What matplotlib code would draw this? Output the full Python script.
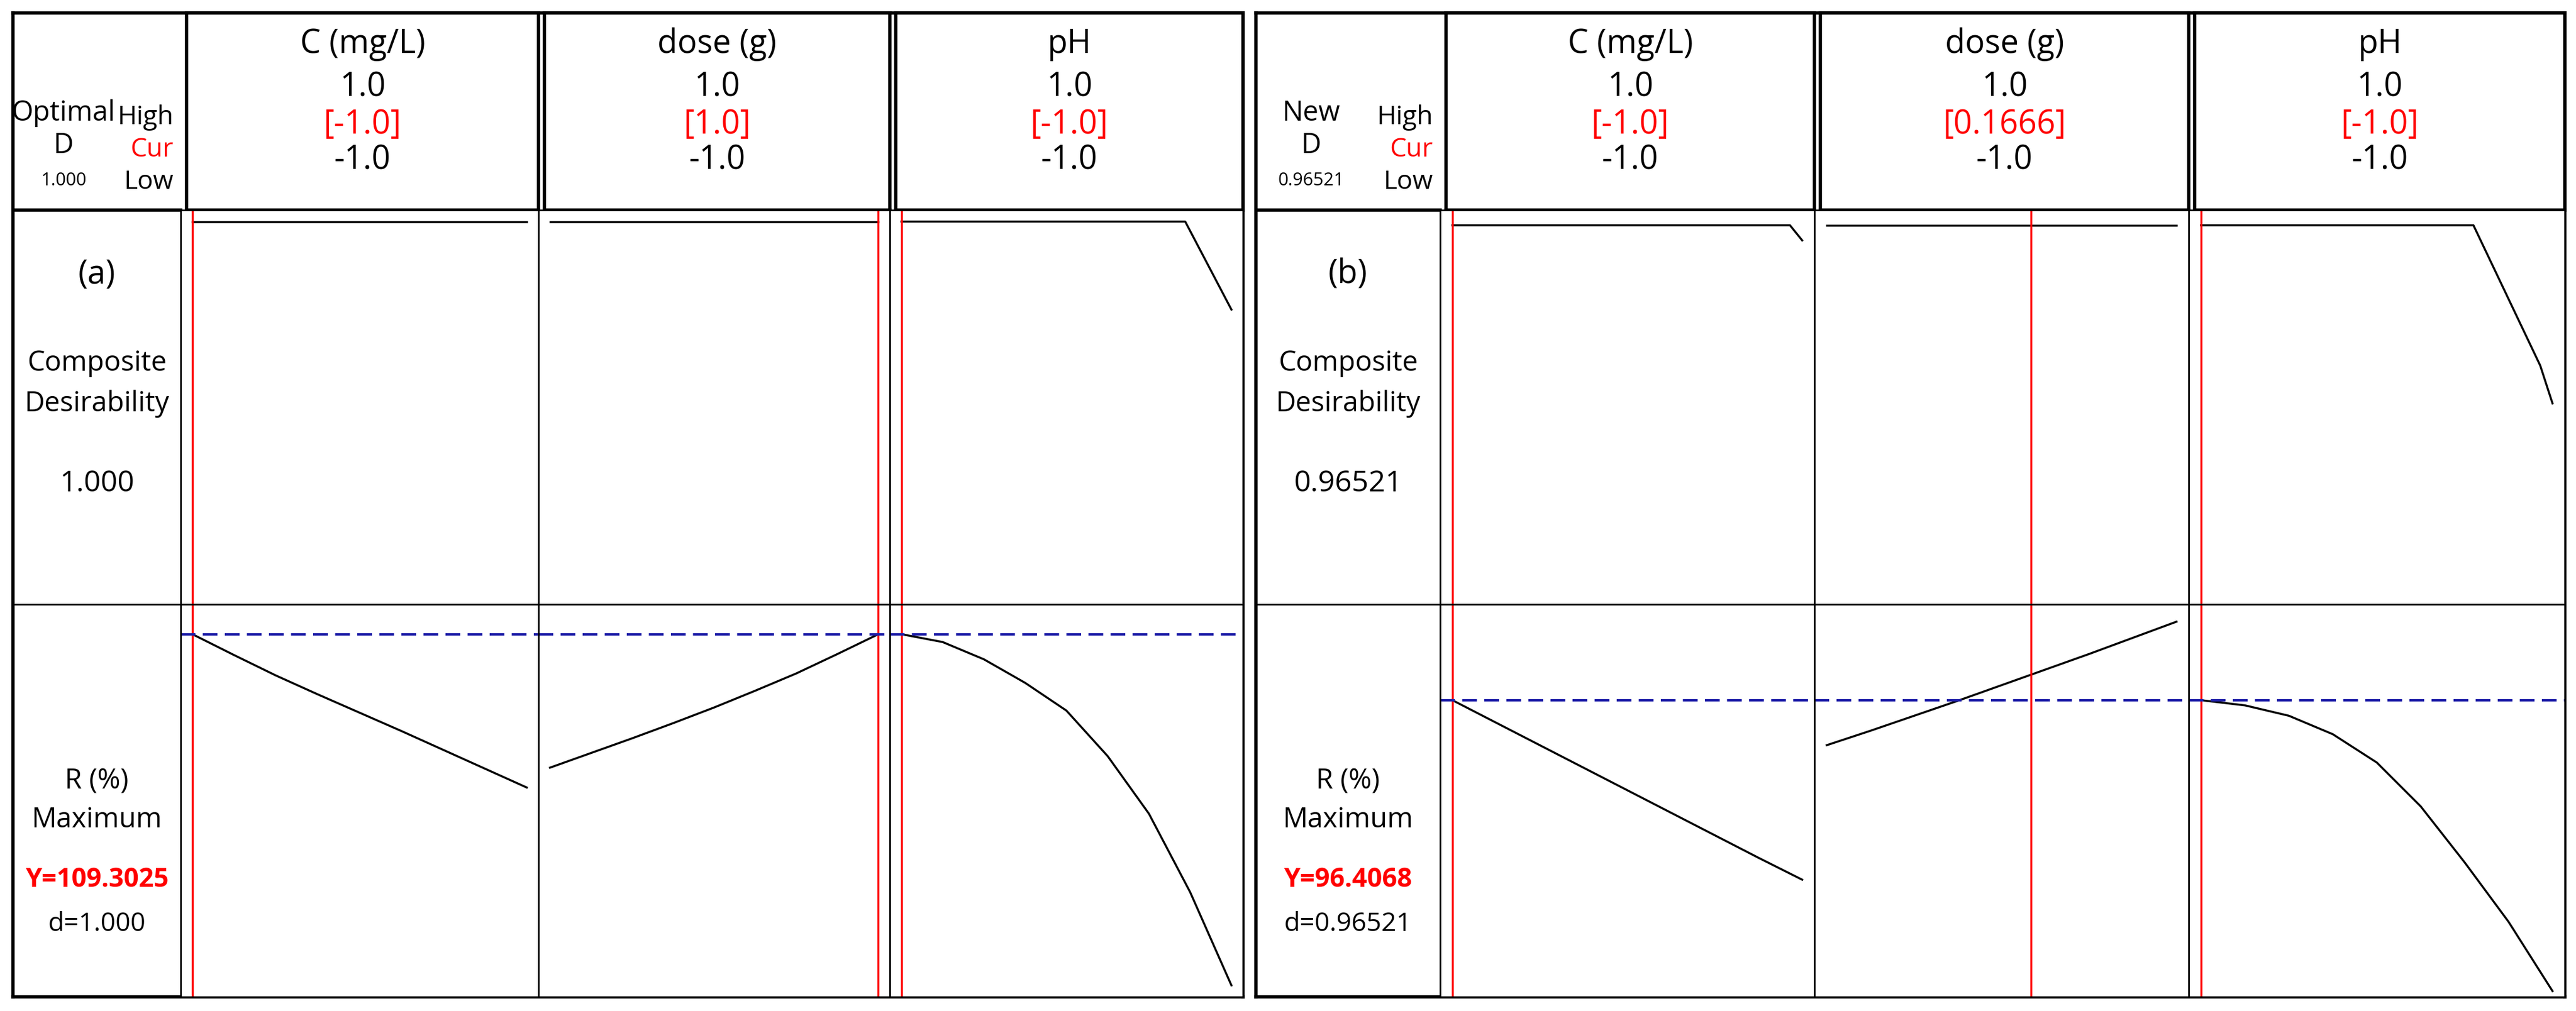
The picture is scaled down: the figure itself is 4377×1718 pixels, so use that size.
import numpy as np
import matplotlib.pyplot as plt

plt.rcParams['font.family'] = ['Open Sans', 'DejaVu Sans']

W, H = 4377, 1718
factors = ['C (mg/L)', 'dose (g)', 'pH']
high = ['1.0', '1.0', '1.0']
low = ['-1.0', '-1.0', '-1.0']

xs = [-1.0, -0.75, -0.5, -0.25, 0.0, 0.25, 0.5, 0.75, 1.0]
# panel (a)
cur_a = [-1.0, 1.0, -1.0]
cur_a_txt = ['[-1.0]', '[1.0]', '[-1.0]']
resp_a = [[109.3, 105.3, 101.4, 97.8, 94.3, 90.8, 87.2, 83.6, 80.0],
          [83.8, 86.6, 89.4, 92.3, 95.3, 98.5, 101.8, 105.5, 109.3],
          [109.3, 107.8, 104.5, 100.0, 94.7, 86.0, 75.0, 60.0, 42.2]]
des_xs = [-1.0, 0.0, 0.72, 1.0]
des_a = [[1.0, 1.0, 1.0, 1.0],
         [1.0, 1.0, 1.0, 1.0],
         [1.0, 1.0, 1.0, 0.77]]
y_a = 109.3025
# panel (b)
cur_b = [-1.0, 0.1666, -1.0]
cur_b_txt = ['[-1.0]', '[0.1666]', '[-1.0]']
resp_b = [[96.4, 92.5, 88.6, 84.7, 80.8, 76.9, 73.0, 69.1, 65.3],
          [88.6, 91.1, 93.7, 96.3, 99.0, 101.7, 104.4, 107.2, 110.0],
          [96.4, 95.5, 93.7, 90.5, 85.6, 78.0, 68.3, 58.0, 46.0]]
des_xs_b = [-1.0, 0.0, 0.55, 0.93, 1.0]
des_b = [[1.0, 1.0, 1.0, 1.0, 0.96],
         [1.0, 1.0, 1.0, 1.0, 1.0],
         [1.0, 1.0, 1.0, 0.63, 0.53]]
y_b = 96.4068

fig = plt.figure(figsize=(W / 100, H / 100), dpi=100)


def box(x0, y0, x1, y1):
    return fig.add_axes([x0 / W, 1 - y1 / H, (x1 - x0) / W, (y1 - y0) / H])


def bare(ax, lw=2.5):
    ax.set_xticks([])
    ax.set_yticks([])
    for s in ax.spines.values():
        s.set_linewidth(lw)
    return ax


def panel(L, R, lab_r, divs, hdiv, top, bot, hdr, cur, cur_txt, resp, dxs, des,
          ylim, dlim, yval, dtxt, dlabel, letter, yfmt):
    ax = bare(box(L, top, R, bot), 4)
    ax.set_xlim(L, R)
    ax.set_ylim(bot, top)
    # label column header
    lx = L + (lab_r - L) * 0.3
    ax.text(lx, (top + hdr) / 2 + 30, dlabel + '\nD', ha='center', va='center',
            fontsize=34, linespacing=1.2)
    ax.text(lx, hdr - 50, dtxt, ha='center', va='center', fontsize=22)
    for i, (t, c) in enumerate([('High', 'black'), ('Cur', 'red'), ('Low', 'black')]):
        ax.text(lab_r - 12, (top + hdr) / 2 + 65 + (i - 1) * 55, t, ha='right', va='center',
                fontsize=32, color=c)
    ax.plot([L, lab_r], [hdr, hdr], color='k', lw=4)
    ax.plot([L, lab_r], [hdiv, hdiv], color='k', lw=2)
    ax.text((L + lab_r) / 2, hdr + 110, letter, ha='center', fontsize=40, va='center')
    mid1 = (hdr + hdiv) / 2
    ax.text((L + lab_r) / 2, mid1 - 40, 'Composite\nDesirability', ha='center', va='center',
            fontsize=34, linespacing=1.6)
    ax.text((L + lab_r) / 2, mid1 + 130, yfmt[0], ha='center', va='center', fontsize=36)
    mid2 = (hdiv + bot) / 2
    ax.text((L + lab_r) / 2, mid2, 'R (%)\nMaximum', ha='center', va='center',
            fontsize=34, linespacing=1.5)
    ax.text((L + lab_r) / 2, mid2 + 135, yfmt[1], ha='center', va='center', fontsize=32,
            color='red', fontweight='bold')
    ax.text((L + lab_r) / 2, mid2 + 210, yfmt[2], ha='center', va='center', fontsize=32)

    edges = [lab_r] + divs
    for j in range(3):
        x0, x1 = edges[j], edges[j + 1]
        h = bare(box(x0 + 10, top, x1, hdr), 4)
        for k, (t, c) in enumerate([(factors[j], 'k'), (high[j], 'k'), (cur_txt[j], 'red'),
                                     (low[j], 'k')]):
            h.text(0.5, [0.84, 0.62, 0.43, 0.25][k], t, transform=h.transAxes, ha='center',
                   va='center', fontsize=40, color=c)
        a1 = bare(box(x0, hdr, x1, hdiv), 2)
        a1.set_xlim(-1.07, 1.07)
        a1.set_ylim(*dlim)
        a1.plot(dxs, des[j], color='k', lw=2.5)
        a1.axvline(cur[j], color='red', lw=2.5)
        a2 = bare(box(x0, hdiv, x1, bot), 2)
        a2.set_xlim(-1.07, 1.07)
        a2.set_ylim(*ylim)
        a2.plot(xs, resp[j], color='k', lw=2.5)
        a2.axvline(cur[j], color='red', lw=2.5)
        a2.axhline(yval, color='#1f1fa8', lw=3, ls=(0, (6, 3)))


panel(22, 2112, 307, [915, 1512, 2112], 1027, 22, 1694, 357, cur_a, cur_a_txt, resp_a,
      des_xs, des_a, (40, 115), (0, 1.03), y_a, '1.000', 'Optimal', '(a)',
      ['1.000', 'Y=109.3025', 'd=1.000'])
panel(2134, 4358, 2447, [3083, 3719, 4358], 1027, 22, 1694, 357, cur_b, cur_b_txt, resp_b,
      des_xs_b, des_b, (45, 113), (0, 1.04), y_b, '0.96521', 'New', '(b)',
      ['0.96521', 'Y=96.4068', 'd=0.96521'])

fig.savefig('out.png', dpi=100)
